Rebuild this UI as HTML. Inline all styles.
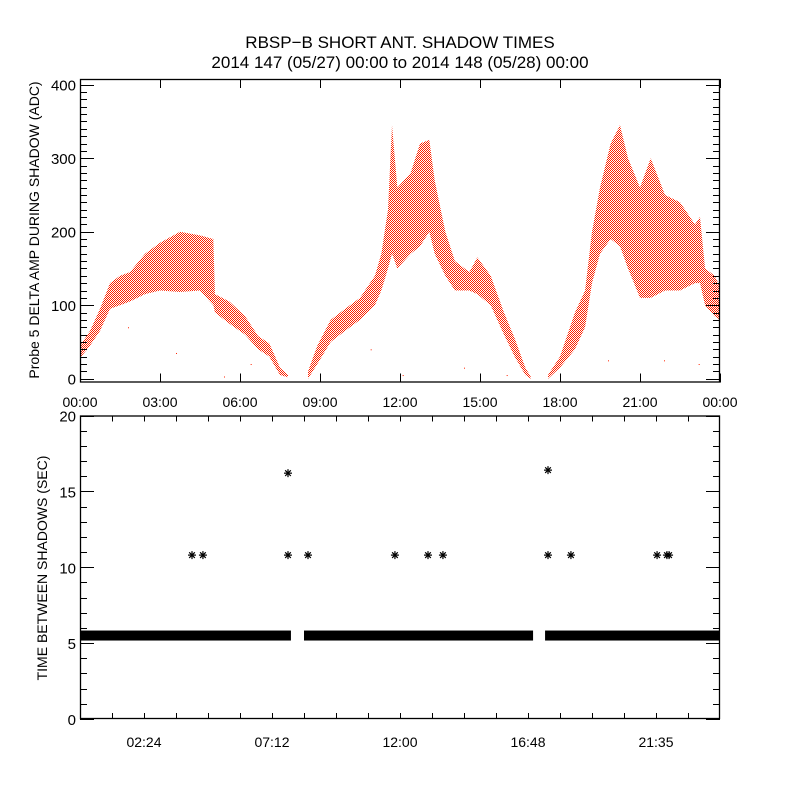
<!DOCTYPE html>
<html><head><meta charset="utf-8"><style>
html,body{margin:0;padding:0;background:#fff;}
svg{display:block;font-family:"Liberation Sans",sans-serif;}
</style></head><body>
<svg id="c" width="800" height="800" viewBox="0 0 800 800">
<defs><pattern id="dots" width="2" height="2" patternUnits="userSpaceOnUse"><rect x="0" y="0" width="1" height="1" fill="#ff2200"/><rect x="1" y="1" width="1" height="1" fill="#ff2200"/></pattern></defs>
<text x="400" y="48" text-anchor="middle" font-size="17">RBSP−B SHORT ANT. SHADOW TIMES</text>
<text x="400" y="68" text-anchor="middle" font-size="17">2014 147 (05/27) 00:00 to 2014 148 (05/28) 00:00</text>
<g id="topPanel"></g>
<g id="botPanel"></g>
<text transform="translate(39,230) rotate(-90)" text-anchor="middle" font-size="14">Probe 5 DELTA AMP DURING SHADOW (ADC)</text>
<text transform="translate(47,568) rotate(-90)" text-anchor="middle" font-size="14">TIME BETWEEN SHADOWS (SEC)</text>
</svg>
<script>
// Top panel data: segments of [hours, low, high]
const seg1Hours=[0,0.375,0.75,1.125,1.5,1.875,2.44,3.0,3.75,4.5,5.0,5.06,5.6,6.19,6.68,7.1,7.5,7.8];
const seg1Low=[28,45,65,95,100,105,115,120,118,120,100,90,75,60,40,30,5,2];
const seg1High=[45,65,95,130,140,145,170,185,200,195,190,115,105,85,58,48,15,5];
const seg2Hours=[8.55,8.9,9.4,9.94,10.5,11.06,11.3,11.55,11.7,11.9,12.4,12.75,13.1,13.3,13.7,14.06,14.6,14.9,15.4,15.9,16.3,16.7,16.9];
const seg2Low=[0,20,50,65,80,100,120,150,170,150,170,180,200,170,140,120,120,115,100,60,30,5,0];
const seg2High=[10,45,80,95,110,140,170,230,345,260,280,320,325,270,200,160,145,165,140,90,55,15,3];
const seg3Hours=[17.55,18.0,18.56,18.94,19.2,19.5,19.9,20.25,20.55,21.0,21.4,21.94,22.5,23.06,23.25,23.44,23.8,24];
const seg3Low=[0,15,40,70,130,170,190,180,150,110,110,120,120,130,130,100,85,80];
const seg3High=[5,30,90,120,200,260,320,345,300,260,300,250,240,210,220,150,140,125];
const strayHours=[1.8,3.6,5.4,6.4,10.9,12.1,14.4,16.0,19.8,21.9,23.2];
const strayVals=[70,35,3,20,40,5,15,5,25,25,20];
// Bottom panel data
const bandStart=[0,8.4,17.44];
const bandEnd=[7.91,16.99,24];
const bandValue=5.5;
const starHours=[4.2,4.61,7.8,7.8,8.55,11.81,13.05,13.61,17.55,17.55,18.41,21.64,22.01,22.09];
const starVals=[10.8,10.8,16.2,10.8,10.8,10.8,10.8,10.8,16.4,10.8,10.8,10.8,10.8,10.8];
const topXTicks=["00:00","03:00","06:00","09:00","12:00","15:00","18:00","21:00","00:00"];
const topYTicks=[0,100,200,300,400];
const botXLabels=["02:24","07:12","12:00","16:48","21:35"];
const botXLabelHours=[2.4,7.2,12,16.8,21.6];
const botYTicks=[0,5,10,15,20];

const NS="http://www.w3.org/2000/svg";
function mk(tag,attrs,parent){const e=document.createElementNS(NS,tag);for(const k in attrs)e.setAttribute(k,attrs[k]);parent.appendChild(e);return e;}
const L=80,R=720;
const tx=h=>L+h/24*(R-L);
const T0=79,T1=382.5;
const ty=v=>378.7-v*0.735;
const bx=h=>tx(h);
const B0=415.5,B1=719;
const by=v=>B1-v/20*(B1-B0);

const topG=document.getElementById('topPanel');
const botG=document.getElementById('botPanel');

function band(hours,lo,hi,name){
  let pts=[];
  for(let i=0;i<hours.length;i++)pts.push(tx(hours[i])+','+ty(hi[i]));
  for(let i=hours.length-1;i>=0;i--)pts.push(tx(hours[i])+','+ty(lo[i]));
  const p=mk('polygon',{points:pts.join(' '),fill:'url(#dots)'},topG);
  
  
}
band(seg1Hours,seg1Low,seg1High,'amp-series-pass-1');
band(seg2Hours,seg2Low,seg2High,'amp-series-pass-2');
band(seg3Hours,seg3Low,seg3High,'amp-series-pass-3');
for(let i=0;i<strayHours.length;i++){
  const r=mk('rect',{x:tx(strayHours[i]),y:ty(strayVals[i]),width:1,height:1,fill:'#ff2200'},topG);
  
  
}
const f1=mk('rect',{x:L+0.5,y:T0+0.5,width:R-L-1,height:T1-T0-1,fill:'none',stroke:'#000','stroke-width':1.3},topG);


for(let v=0;v<=400;v+=10){
  const major=v%100===0;const len=major?14:7;const y=Math.round(ty(v))+0.5;
  mk('line',{x1:L,x2:L+len,y1:y,y2:y,stroke:'#000'},topG);
  mk('line',{x1:R,x2:R-len,y1:y,y2:y,stroke:'#000'},topG);
}
topYTicks.forEach(v=>{
  const t=mk('text',{x:L-4,y:ty(v)+6,'text-anchor':'end','font-size':15},topG);t.textContent=v;
  
  
});
topXTicks.forEach((s,i)=>{
  const x=Math.round(tx(i*3))+0.5;
  mk('line',{x1:x,x2:x,y1:T1,y2:T1-9,stroke:'#000'},topG);
  mk('line',{x1:x,x2:x,y1:T0,y2:T0+9,stroke:'#000'},topG);
  const t=mk('text',{x:tx(i*3),y:407,'text-anchor':'middle','font-size':14},topG);t.textContent=s;
  
  
});
for(let i=0;i<bandStart.length;i++){
  const r=mk('rect',{x:bx(bandStart[i]),y:by(bandValue)-5,width:bx(bandEnd[i])-bx(bandStart[i]),height:10,fill:'#000'},botG);
  
  
}
for(let i=0;i<starHours.length;i++){
  const cx=bx(starHours[i]),cy=by(starVals[i]);
  const g=mk('g',{stroke:'#000','stroke-width':1.2},botG);
  
  
  for(let a=0;a<4;a++){const an=a*Math.PI/4;mk('line',{x1:cx-4*Math.cos(an),y1:cy-4*Math.sin(an),x2:cx+4*Math.cos(an),y2:cy+4*Math.sin(an)},g);}
}
const f2=mk('rect',{x:L+0.5,y:B0+0.5,width:R-L-1,height:B1-B0-1,fill:'none',stroke:'#000','stroke-width':1.3},botG);


for(let v=0;v<=20;v++){
  const major=v%5===0;const len=major?14:7;const y=Math.round(by(v))+0.5;
  mk('line',{x1:L,x2:L+len,y1:y,y2:y,stroke:'#000'},botG);
  mk('line',{x1:R,x2:R-len,y1:y,y2:y,stroke:'#000'},botG);
}
botYTicks.forEach(v=>{
  const t=mk('text',{x:L-4,y:by(v)+6,'text-anchor':'end','font-size':15},botG);t.textContent=v;
  
  
});
for(let k=1;k<20;k++){
  const x=Math.round(bx(k*1.2))+0.5;
  mk('line',{x1:x,x2:x,y1:B1,y2:B1-6,stroke:'#000'},botG);
  mk('line',{x1:x,x2:x,y1:B0,y2:B0+6,stroke:'#000'},botG);
}
botXLabels.forEach((s,i)=>{
  const t=mk('text',{x:bx(botXLabelHours[i]),y:747,'text-anchor':'middle','font-size':14},botG);t.textContent=s;
  
  
});
</script>
</body></html>
